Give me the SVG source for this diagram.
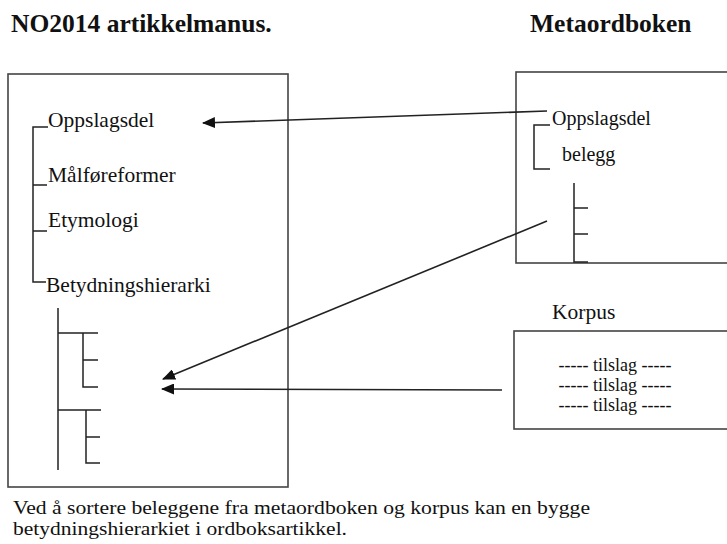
<svg xmlns="http://www.w3.org/2000/svg" width="727" height="544" viewBox="0 0 727 544">
<defs>
<style>
text{font-family:'Liberation Serif','Times New Roman',serif;fill:#111}
.t{font-size:21.5px}
.m{font-size:20px}
.s{font-size:18px}
.c{font-size:19px}
.h{font-size:25.5px;font-weight:bold}
.box{fill:none;stroke:#444;stroke-width:1.6}
.ln{fill:none;stroke:#222;stroke-width:1.5}
.ar{fill:none;stroke:#222;stroke-width:1.6}
</style>
<marker id="ah" markerWidth="13" markerHeight="11" refX="12" refY="5.5" orient="auto" markerUnits="userSpaceOnUse">
<path d="M0,0 L13,5.5 L0,11 z" fill="#111"/>
</marker>
</defs>
<rect width="727" height="544" fill="#fff"/>
<g id="titles">
<text class="h" x="11" y="32">NO2014 artikkelmanus.</text>
<text class="h" x="530" y="32">Metaordboken</text>
</g>
<g id="artikkelmanus">
<rect class="box" x="8" y="74" width="280" height="413"/>
<path class="ln" d="M48,127 H33 V282 H46 M33,185 H47 M33,231 H47"/>
<text class="t" x="48" y="127">Oppslagsdel</text>
<text class="t" x="48" y="182">Målføreformer</text>
<text class="t" x="48" y="227">Etymologi</text>
<text class="t" x="46" y="292">Betydningshierarki</text>
<path class="ln" d="M58,308 V470 M58,333 H98 M83,333 V387 H98 M83,360 H98 M58,410 H101 M86,410 V463 H100 M86,437 H100"/>
</g>
<g id="metaordboken">
<rect class="box" x="516" y="72" width="230" height="191"/>
<path class="ln" d="M550,125 H534 V169 H550 M574,183 V262 H588 M574,208 H588 M574,234 H588"/>
<text class="m" x="552" y="125">Oppslagsdel</text>
<text class="m" x="562" y="161">belegg</text>
</g>
<g id="korpus">
<text class="t" x="552" y="319">Korpus</text>
<rect class="box" x="514" y="331" width="230" height="98"/>
<text class="s" x="615" y="371" text-anchor="middle">----- tilslag -----</text>
<text class="s" x="615" y="391" text-anchor="middle">----- tilslag -----</text>
<text class="s" x="615" y="411" text-anchor="middle">----- tilslag -----</text>
</g>
<g id="connectors">
<line class="ar" x1="547" y1="111" x2="203" y2="123" marker-end="url(#ah)"/>
<line class="ar" x1="547" y1="221" x2="163" y2="379" marker-end="url(#ah)"/>
<line class="ar" x1="502" y1="390" x2="162" y2="389" marker-end="url(#ah)"/>
</g>
<g id="caption">
<text class="c" x="13" y="514" textLength="577" lengthAdjust="spacingAndGlyphs">Ved å sortere beleggene fra metaordboken og korpus kan en bygge</text>
<text class="c" x="13" y="535" textLength="334" lengthAdjust="spacingAndGlyphs">betydningshierarkiet i ordboksartikkel.</text>
</g>
</svg>
